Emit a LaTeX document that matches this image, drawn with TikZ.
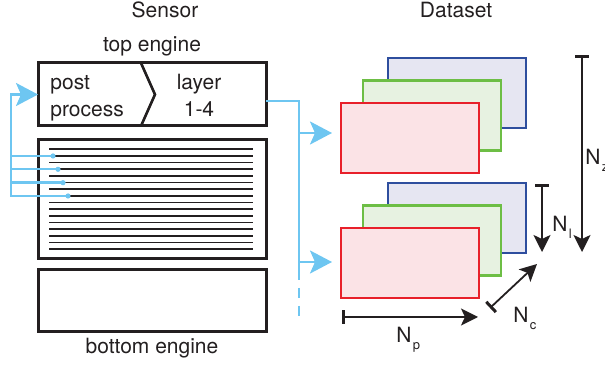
\documentclass[tikz,border=0pt]{standalone}
\usepackage{fontspec}
\setmainfont{TeX Gyre Heros}
\usetikzlibrary{arrows.meta,calc}
\definecolor{sky}{HTML}{6EC6F1}
\definecolor{ink}{HTML}{231F20}
\definecolor{redB}{HTML}{E8202A}
\definecolor{redF}{HTML}{FBE3E6}
\definecolor{greenB}{HTML}{6DBE45}
\definecolor{greenF}{HTML}{E7F2E1}
\definecolor{blueB}{HTML}{2E4E9E}
\definecolor{blueF}{HTML}{E6E6F2}
\newcommand\Nsub[1]{N\kern0.6pt\raisebox{-3.5pt}{\fontsize{6.5}{7}\selectfont #1}}
\begin{document}
\begin{tikzpicture}[x=0.5pt,y=-0.5pt,
  font=\fontsize{10.5}{12}\selectfont, text=ink,
  enginebox/.style={draw=ink, line width=1.5pt, inner sep=0pt, outer sep=0pt, minimum width=114pt},
  sheet/.style={line width=1.45pt, inner sep=0pt, outer sep=0pt, minimum width=69pt, minimum height=35pt},
  redsheet/.style={sheet, draw=redB, fill=redF},
  greensheet/.style={sheet, draw=greenB, fill=greenF},
  bluesheet/.style={sheet, draw=blueB, fill=blueF},
  skyline/.style={draw=sky, line width=1.2pt},
  skyarrow/.style={skyline, -{Stealth[length=11pt,width=11.5pt,inset=2.5pt]}},
  dimarrow/.style={draw=ink, line width=0.9pt, {Bar[width=7pt,line width=1.5pt]}-{Stealth[length=8.5pt,width=8.5pt,inset=2pt]}},
  lbl/.style={inner sep=0pt, anchor=base},
  lblw/.style={inner sep=0pt, anchor=base west}]
\useasboundingbox (0,0) rectangle (605,368);

% titles
\node[lbl] (sensor) at (165,18) {Sensor};
\node[lbl] (dataset) at (456,18) {Dataset};
\node[lbl] (toplbl) at (152,52) {top engine};
\node[lbl] (botlbl) at (152,354) {bottom engine};

% top engine
\node[enginebox, minimum height=31.5pt] (top) at (152,94.5) {};
\draw[ink, line width=1.3pt] (141,63) -- (155,94.5) -- (141,126);
\node[lblw] (post) at (50,90) {post};
\node[lblw] (process) at (50,117) {process};
\node[lbl] (layer) at (199,90) {layer};
\node[lbl] (layernum) at (199,117) {1-4};

% sensor
\node[enginebox, minimum height=59.5pt] (sensorbox) at (152,199.5) {};
\foreach \i in {0,...,15}
  \draw[ink, line width=0.85pt] (49,149.3+6.667*\i) -- (253,149.3+6.667*\i);

% bottom engine
\node[enginebox, minimum height=31pt] (bottom) at (152,301) {};

% readout lines
\coordinate (d1) at (53,156);
\coordinate (d2) at (58,169.3);
\coordinate (d3) at (63,182.7);
\coordinate (d4) at (68,196);
\foreach \d in {d1,d2,d3,d4} \fill[sky] (\d) circle (2.6);
\draw[skyarrow] (d4) -- (11,196) -- (11,94.5) -- (top.west);
\draw[skyline] (d1) -- (11,156);
\draw[skyline] (d2) -- (11,169.3);
\draw[skyline] (d3) -- (11,182.7);

% dataset stacks
\node[bluesheet] (b1) at (457,93) {};
\node[greensheet] (g1) at (432,115.5) {};
\node[redsheet] (r1) at (410,138) {};
\node[bluesheet] (b2) at (457,218) {};
\node[greensheet] (g2) at (432,240.5) {};
\node[redsheet] (r2) at (410,263) {};

% output line
\coordinate (out) at (266,101);
\coordinate (tk1) at (299,101);
\coordinate (tk2) at (299,270);
\coordinate (tk3) at (299,317);
\coordinate (a1) at (332,133);
\coordinate (a2) at (332,262);
\draw[skyline] (out) -- (tk1) -- (tk2);
\draw[skyline, dash pattern=on 5pt off 4pt] (tk2) -- (tk3);
\draw[skyarrow] (299,133) -- (a1);
\draw[skyarrow] (299,262) -- (a2);

% dimensions
\coordinate (nz1) at (582,55);
\coordinate (nz2) at (582,252);
\coordinate (nl1) at (542,184);
\coordinate (nl2) at (542,252);
\coordinate (nc1) at (490,308);
\coordinate (nc2) at (537,264);
\coordinate (np1) at (342,317);
\coordinate (np2) at (478,317);
\draw[dimarrow] (nz1) -- (nz2);
\draw[dimarrow] (nl1) -- (nl2);
\draw[dimarrow] (nc1) -- (nc2);
\draw[dimarrow] (np1) -- (np2);
\node[lblw] (nz) at (585,165) {\Nsub{z}};
\node[lblw] (nl) at (552,232) {\Nsub{l}};
\node[lblw] (nc) at (513,323) {\Nsub{c}};
\node[lblw] (np) at (396,343) {\Nsub{p}};
\end{tikzpicture}
\end{document}
